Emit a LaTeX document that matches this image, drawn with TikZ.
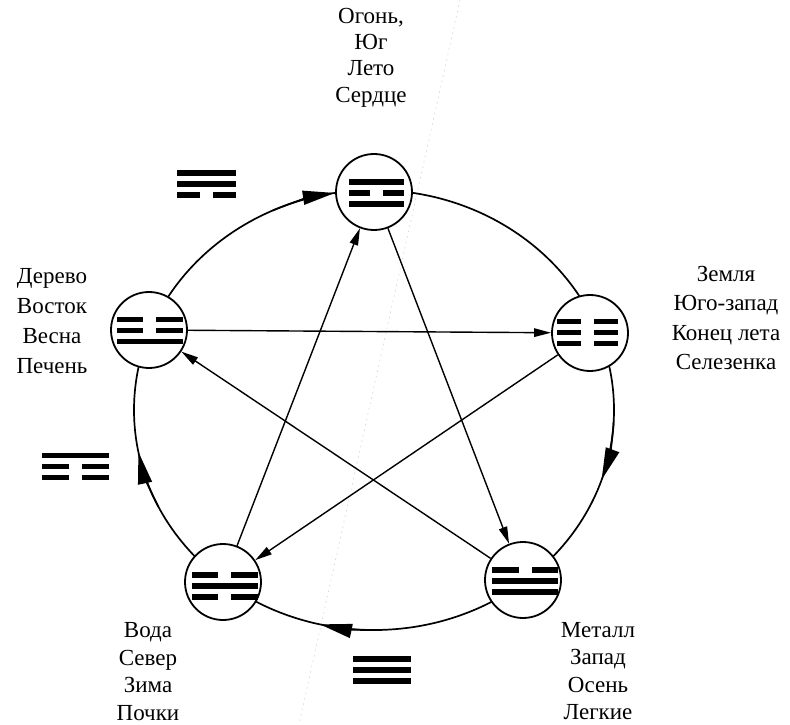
\documentclass[tikz,border=0pt]{standalone}
\usepackage{fontspec}
\setmainfont{Liberation Serif}
\usetikzlibrary{arrows.meta}
\tikzset{
  elem/.style={circle, draw, line width=1.8pt, fill=white, minimum size=76pt, inner sep=0pt},
  ring/.style={line width=1.7pt},
  ringarrow/.style={line width=1.7pt, -{Triangle[length=32pt,width=14pt]}},
  star/.style={line width=1.4pt, -{Triangle[length=17pt,width=8.5pt]}},
  lbl/.style={align=center, inner sep=0pt, font=\fontsize{23}{#1}\selectfont},
  lbl/.default=28,
  trigw/.store in=\trigw, trigw=62,
  pics/trigram/.style n args={3}{code={
    \foreach \t [count=\i] in {#1,#2,#3}{
      \pgfmathsetmacro\yy{(2-\i)*11}
      \ifnum\t=1
        \fill (-\trigw/2,\yy-2.9) rectangle (\trigw/2,\yy+2.9);
      \else
        \fill (-\trigw/2,\yy-2.9) rectangle (-6.5,\yy+2.9);
        \fill (6.5,\yy-2.9) rectangle (\trigw/2,\yy+2.9);
      \fi
    }}}
}
\begin{document}
\begin{tikzpicture}[x=1pt,y=1pt]
\useasboundingbox (0,0) rectangle (790,724);
\draw[gray!35, line width=0.6pt, dash pattern=on 1.5pt off 4pt] (460,724) -- (299,0);
\coordinate (ell) at (374,314);
\draw[ring] (ell) ellipse [x radius=240pt, y radius=220pt];
\node[elem] (fire) at (374,532) {};
\node[elem] (wood) at (149,394) {};
\node[elem] (earth) at (590,391) {};
\node[elem] (water) at (223,142) {};
\node[elem] (metal) at (523,144) {};
% ring arrows
\draw[ringarrow] ([shift={(115:240pt and 220pt)}]ell) arc[start angle=115, end angle=99.4, x radius=240pt, y radius=220pt];
\draw[ringarrow] ([shift={(-3:240pt and 220pt)}]ell) arc[start angle=-3, end angle=-18.5, x radius=240pt, y radius=220pt];
\draw[ringarrow] ([shift={(-88:240pt and 220pt)}]ell) arc[start angle=-88, end angle=-103, x radius=240pt, y radius=220pt];
\draw[ringarrow] ([shift={(206:240pt and 220pt)}]ell) arc[start angle=206, end angle=191, x radius=240pt, y radius=220pt];
% trigrams in circles
\pic[trigw=55] at (376.5,531) {trigram={1}{0}{1}};
\pic[trigw=66] at (149.5,393.5) {trigram={0}{0}{1}};
\pic[trigw=61] at (587.5,391.5) {trigram={0}{0}{0}};
\pic[trigw=66] at (224.5,138) {trigram={0}{1}{0}};
\pic[trigw=66] at (525,143) {trigram={0}{1}{1}};
% outer trigrams
\pic[trigw=59] at (206.5,540) {trigram={1}{1}{0}};
\pic[trigw=67] at (75.5,257.5) {trigram={1}{0}{0}};
\pic[trigw=58] at (382,54) {trigram={1}{1}{1}};
% star connectors
\draw[star] (wood) -- (earth);
\draw[star] (earth) -- (water);
\draw[star] (water) -- (fire);
\draw[star] (fire) -- (metal);
\draw[star] (metal) -- (wood);
% labels
\node[lbl=26.3] (firelbl) at (371,666.5) {Огонь,\\Юг\\Лето\\Сердце};
\node[lbl=30] (woodlbl) at (52,403) {Дерево\\Восток\\Весна\\Печень};
\node[lbl=29.3] (earthlbl) at (726,406) {Земля\\Юго-запад\\Конец лета\\Селезенка};
\node[lbl=27.7] (waterlbl) at (148,52.5) {Вода\\Север\\Зима\\Почки};
\node[lbl=27.3] (metallbl) at (598,53) {Металл\\Запад\\Осень\\Легкие};
\end{tikzpicture}
\end{document}
